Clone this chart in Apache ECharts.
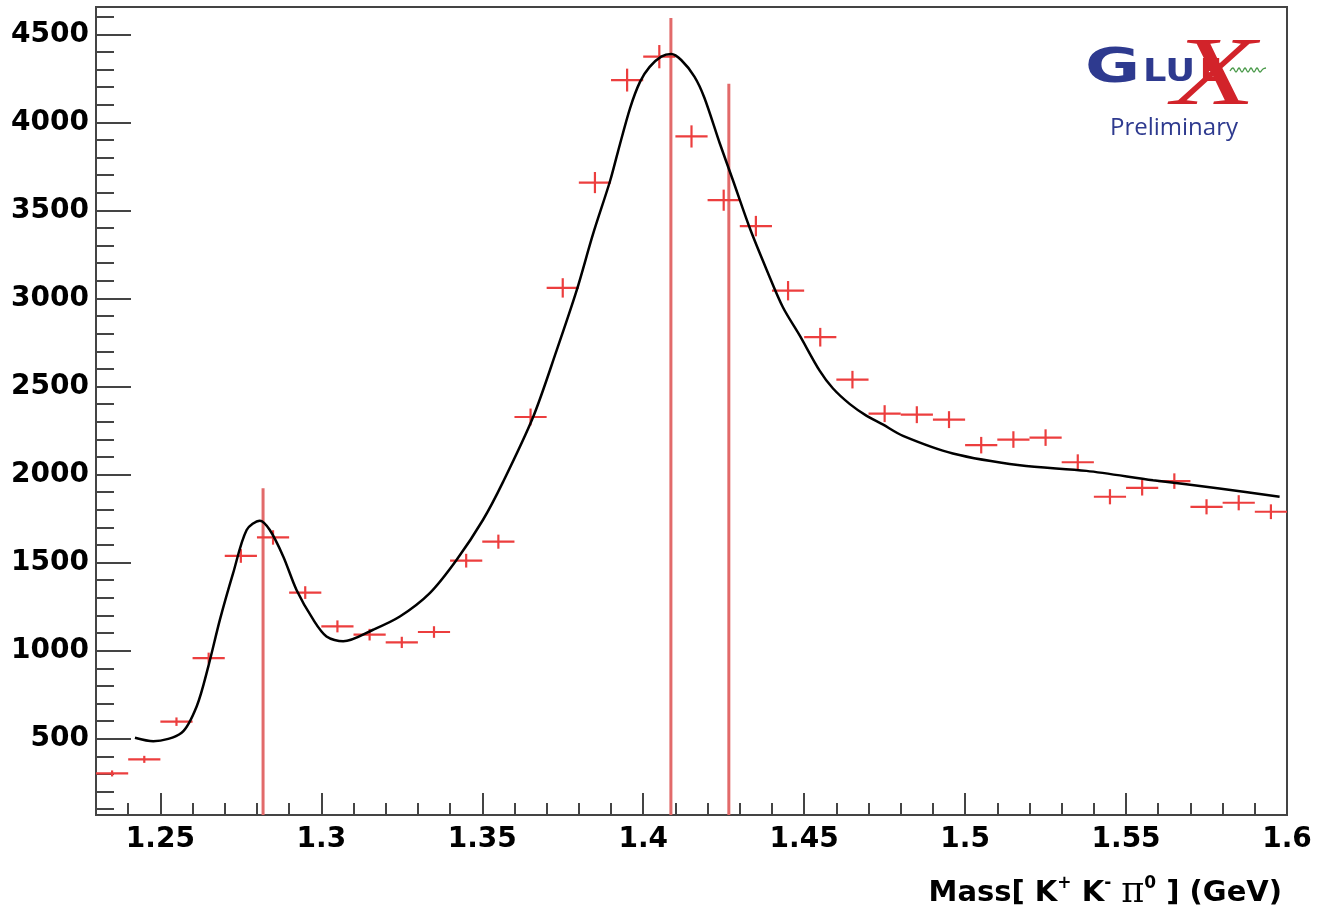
<!DOCTYPE html>
<html>
<head>
<meta charset="utf-8">
<script src="https://cdn.jsdelivr.net/npm/echarts@6/dist/echarts.min.js"></script>
<style>
html,body{margin:0;padding:0;background:#fff;}
#chart{width:1318px;height:915px;}
</style>
</head>
<body>
<div id="chart"></div>
<script>
// ---- data ----
const binCenters = [1.235,1.245,1.255,1.265,1.275,1.285,1.295,1.305,1.315,1.325,1.335,1.345,1.355,1.365,1.375,1.385,1.395,1.405,1.415,1.425,1.435,1.445,1.455,1.465,1.475,1.485,1.495,1.505,1.515,1.525,1.535,1.545,1.555,1.565,1.575,1.585,1.595];
const counts = [303,383,597,958,1538,1643,1330,1138,1091,1047,1106,1511,1619,2327,3060,3658,4240,4373,3920,3558,3411,3044,2780,2539,2346,2340,2312,2167,2199,2210,2070,1874,1925,1963,1817,1840,1789];
const countErrors = [17,20,24,31,39,41,36,34,33,32,33,39,40,48,55,60,65,66,63,60,58,55,53,50,48,48,48,47,47,47,45,43,44,44,43,43,42];
const binWidth = 0.01;

const fitX = [1.2421,1.2478,1.2566,1.2613,1.2649,1.2685,1.2726,1.2768,1.2809,1.2840,1.2882,1.2923,1.2975,1.3016,1.3068,1.3161,1.3244,1.3337,1.3420,1.3502,1.3565,1.3658,1.3731,1.3793,1.3844,1.3897,1.3922,1.3959,1.3990,1.4020,1.4056,1.4087,1.4118,1.4159,1.4190,1.4238,1.4279,1.4331,1.4383,1.4434,1.4486,1.4548,1.4589,1.4642,1.4693,1.4744,1.4807,1.4962,1.5170,1.5377,1.5584,1.5790,1.5977];
const fitY = [506,486,534,685,911,1176,1440,1685,1738,1685,1534,1345,1176,1081,1053,1119,1194,1327,1515,1742,1960,2327,2705,3044,3365,3667,3837,4080,4230,4315,4373,4388,4354,4260,4140,3880,3670,3400,3165,2950,2790,2590,2490,2400,2335,2285,2220,2120,2053,2021,1968,1921,1874];

const markerX = [1.2819,1.4086,1.4266];
const markerTop = [1923,4592,4219];

const xMajorTicks = [1.25,1.3,1.35,1.4,1.45,1.5,1.55,1.6];
const xMinorTicks = [1.24,1.26,1.27,1.28,1.29,1.31,1.32,1.33,1.34,1.36,1.37,1.38,1.39,1.41,1.42,1.43,1.44,1.46,1.47,1.48,1.49,1.51,1.52,1.53,1.54,1.56,1.57,1.58,1.59];
const yMajorTicks = [500,1000,1500,2000,2500,3000,3500,4000,4500];
const yMinorTicks = [100,200,300,400,600,700,800,900,1100,1200,1300,1400,1600,1700,1800,1900,2100,2200,2300,2400,2600,2700,2800,2900,3100,3200,3300,3400,3600,3700,3800,3900,4100,4200,4300,4400,4600];

const X_MIN = 1.23, X_MAX = 1.6, Y_MIN = 67, Y_MAX = 4655;

// ---- chart ----
const chart = echarts.init(document.getElementById('chart'), null, {renderer:'canvas'});
const labelFont = '"DejaVu Sans", sans-serif';
const axisCol = '#444';

const errData = binCenters.map((x,i)=>[x, counts[i], countErrors[i]]);
const fitData = fitX.map((x,i)=>[x, fitY[i]]);
const markerData = markerX.map((x,i)=>[x, markerTop[i]]);

const option = {
  backgroundColor:'#ffffff',
  animation:false,
  grid:{left:96, right:31, top:7, bottom:100, containLabel:false, outerBoundsMode:'none',
        show:true, borderColor:axisCol, borderWidth:2, backgroundColor:'transparent'},
  xAxis:[
    {type:'value', min:X_MIN, max:X_MAX, position:'bottom',
     axisLine:{show:false}, splitLine:{show:false},
     axisTick:{show:true, inside:true, length:22, customValues:xMajorTicks, lineStyle:{color:axisCol, width:2}},
     axisLabel:{show:true, customValues:xMajorTicks, margin:11, color:'#000', fontFamily:labelFont, fontWeight:'bold', fontSize:28,
                formatter:(v)=>String(+v.toFixed(2))}
    },
    {type:'value', min:X_MIN, max:X_MAX, position:'bottom',
     axisLine:{show:false}, splitLine:{show:false}, axisLabel:{show:false},
     axisTick:{show:true, inside:true, length:12, customValues:xMinorTicks, lineStyle:{color:axisCol, width:2}}
    }
  ],
  yAxis:[
    {type:'value', min:Y_MIN, max:Y_MAX, position:'left',
     axisLine:{show:false}, splitLine:{show:false},
     axisTick:{show:true, inside:true, length:35, customValues:yMajorTicks, lineStyle:{color:axisCol, width:2}},
     axisLabel:{show:true, customValues:yMajorTicks, margin:7, color:'#000', fontFamily:labelFont, fontWeight:'bold', fontSize:28,
                formatter:(v)=>String(Math.round(v))}
    },
    {type:'value', min:Y_MIN, max:Y_MAX, position:'left',
     axisLine:{show:false}, splitLine:{show:false}, axisLabel:{show:false},
     axisTick:{show:true, inside:true, length:18, customValues:yMinorTicks, lineStyle:{color:axisCol, width:2}}
    }
  ],
  series:[
    {
      type:'custom', name:'markers', xAxisIndex:0, yAxisIndex:0, z:2,
      data:markerData,
      renderItem:(params, api)=>{
        const x = api.value(0), top = api.value(1);
        const p1 = api.coord([x, Y_MIN]);
        const p2 = api.coord([x, top]);
        return {type:'line', shape:{x1:p1[0], y1:p1[1], x2:p2[0], y2:p2[1]},
                style:{stroke:'#e26a6a', lineWidth:3}};
      }
    },
    {
      type:'custom', name:'data', xAxisIndex:0, yAxisIndex:0, z:3,
      data:errData,
      renderItem:(params, api)=>{
        const x = api.value(0), y = api.value(1), e = api.value(2);
        const a = api.coord([x - binWidth/2, y]);
        const b = api.coord([x + binWidth/2, y]);
        const c = api.coord([x, y - e]);
        const d = api.coord([x, y + e]);
        const st = {stroke:'#ec3e3e', lineWidth:2.2};
        return {type:'group', children:[
          {type:'line', shape:{x1:a[0], y1:a[1], x2:b[0], y2:b[1]}, style:st},
          {type:'line', shape:{x1:c[0], y1:c[1], x2:d[0], y2:d[1]}, style:st}
        ]};
      }
    },
    {
      type:'line', name:'fit', xAxisIndex:0, yAxisIndex:0, z:4,
      data:fitData, showSymbol:false, smooth:0.3,
      lineStyle:{color:'#000', width:2.5}
    }
  ],
  graphic:[
    {type:'text', x:1282, y:893, z:10, style:{
      text:'Mass[ K{sup|+} K{sup|-} {pi|π}{sup|0} ] (GeV)',
      fontFamily:labelFont, fontWeight:'bold', fontSize:29, fill:'#000',
      align:'right', verticalAlign:'middle', lineHeight:36,
      rich:{
        sup:{fontFamily:labelFont, fontWeight:'bold', fontSize:17, fill:'#000', verticalAlign:'top', lineHeight:36},
        pi:{fontFamily:'"DejaVu Serif", serif', fontWeight:'normal', fontSize:35, fill:'#000', lineHeight:36}
      }}},
    {type:'text', x:1085, y:70, scaleX:1.4, style:{text:'G', font:'bold 48px "DejaVu Sans"', fill:'#2e3a8f', verticalAlign:'middle'}},
    {type:'text', x:1143, y:73, scaleX:1.15, style:{text:'LU', font:'bold 32px "DejaVu Sans"', fill:'#2e3a8f', verticalAlign:'middle'}},
    {type:'text', x:1200, y:73, style:{text:'E', font:'bold 32px "DejaVu Sans"', fill:'#d2232a', verticalAlign:'middle'}},
    {type:'text', x:1172, y:78, scaleX:1.4, style:{text:'X', font:'italic 98px "Liberation Serif"', fill:'#d2232a', verticalAlign:'middle'}},
    {type:'polyline', shape:{points:[[1230,71],[1233,68],[1236,72],[1239,68],[1242,72],[1245,68],[1248,72],[1251,68],[1254,72],[1257,68],[1260,72],[1263,69],[1266,68]], smooth:0.4},
     style:{stroke:'#4a9a4a', lineWidth:1.3, fill:null}},
    {type:'text', x:1174, y:128, style:{text:'Preliminary', font:'24px "Open Sans"', fill:'#2e3a8f', align:'center', verticalAlign:'middle'}}
  ]
};
chart.setOption(option);
</script>
</body>
</html>
